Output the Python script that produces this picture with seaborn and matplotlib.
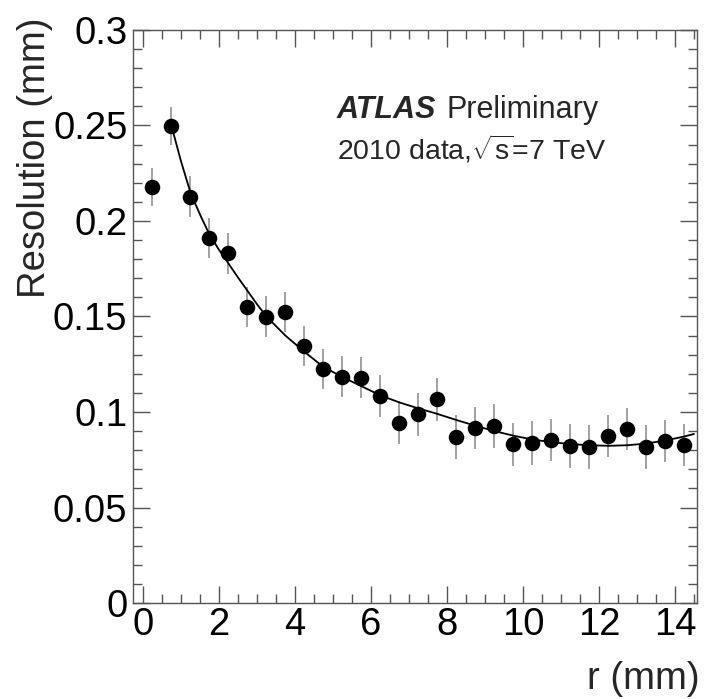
import matplotlib
matplotlib.use("Agg")
import matplotlib.pyplot as plt
import seaborn as sns
import pandas as pd
from matplotlib.ticker import MultipleLocator, FuncFormatter

# measured points
r = [0.25, 0.75, 1.25, 1.75, 2.25, 2.75, 3.25, 3.75, 4.25, 4.75,
     5.25, 5.75, 6.25, 6.75, 7.25, 7.75, 8.25, 8.75, 9.25, 9.75,
     10.25, 10.75, 11.25, 11.75, 12.25, 12.75, 13.25, 13.75, 14.25]
resolution = [0.2176, 0.2497, 0.2127, 0.1910, 0.1831, 0.1551, 0.1499, 0.1525, 0.1346, 0.1225,
              0.1185, 0.1180, 0.1086, 0.0944, 0.0988, 0.1066, 0.0870, 0.0916, 0.0927, 0.0832,
              0.0838, 0.0853, 0.0822, 0.0817, 0.0874, 0.0911, 0.0817, 0.0848, 0.0827]
res_err = [0.0100, 0.0100, 0.0106, 0.0106, 0.0106, 0.0106, 0.0106, 0.0105, 0.0106, 0.0107,
           0.0108, 0.0108, 0.0110, 0.0112, 0.0112, 0.0113, 0.0115, 0.0112, 0.0113, 0.0113,
           0.0113, 0.0112, 0.0113, 0.0113, 0.0112, 0.0112, 0.0113, 0.0108, 0.0108]

# fit curve
fit_r = [0.75, 1.0, 1.25, 1.5, 1.75, 2.0, 2.25, 2.5, 2.75, 3.0, 3.25, 3.75, 4.25, 4.75,
         5.25, 5.75, 6.25, 6.75, 7.25, 7.75, 8.25, 8.75, 9.25, 9.75, 10.25,
         10.75, 11.25, 11.75, 12.25, 12.75, 13.25, 13.75, 14.25, 14.5]
fit_res = [0.2500, 0.2315, 0.2150, 0.2035, 0.1930, 0.1850, 0.1778, 0.1705, 0.1635, 0.1565,
           0.1500, 0.1400, 0.1315, 0.1236, 0.1183, 0.1135, 0.1087, 0.1050, 0.1019, 0.0990,
           0.0958, 0.0928, 0.0900, 0.0876, 0.0856, 0.0842, 0.0832, 0.0826, 0.0823, 0.0826,
           0.0835, 0.0851, 0.0872, 0.0885]

df = pd.DataFrame({"r": r, "res": resolution, "err": res_err})
fit = pd.DataFrame({"r": fit_r, "res": fit_res})

sns.set_style("ticks")
plt.rcParams["font.family"] = ["Liberation Sans", "DejaVu Sans"]
plt.rcParams["mathtext.fontset"] = "custom"
plt.rcParams["mathtext.rm"] = "Liberation Sans"
plt.rcParams["mathtext.it"] = "Liberation Sans"

fig = plt.figure(figsize=(7.13, 6.99), dpi=100)
ax = fig.add_axes([133 / 713, 1 - 603 / 699, 564 / 713, 573 / 699])

axis_col = "#555555"
ax.errorbar(df["r"], df["res"], yerr=df["err"], fmt="none", ecolor="#888888",
            elinewidth=1.1, capsize=0, zorder=2)
sns.lineplot(data=fit, x="r", y="res", color="black", linewidth=1.3, ax=ax, zorder=3)
sns.scatterplot(data=df, x="r", y="res", color="black", s=125, edgecolor="black",
                linewidth=0, ax=ax, zorder=4)

ax.set_xlim(-0.26, 14.58)
ax.set_ylim(0, 0.3)
ax.xaxis.set_major_locator(MultipleLocator(2))
ax.xaxis.set_minor_locator(MultipleLocator(0.5))
ax.yaxis.set_major_locator(MultipleLocator(0.05))
ax.yaxis.set_minor_locator(MultipleLocator(0.01))
ax.yaxis.set_major_formatter(FuncFormatter(lambda v, p: f"{v:g}"))

for s in ax.spines.values():
    s.set_color(axis_col)
    s.set_linewidth(1.0)
ax.tick_params(which="both", direction="in", top=True, right=True, color=axis_col,
               width=1.0, labelsize=27.5, labelcolor="black")
ax.tick_params(which="major", length=12)
ax.tick_params(which="minor", length=6.5)
ax.tick_params(axis="x", pad=3)
ax.tick_params(axis="y", pad=4)

ax.set_xlabel("r (mm)", fontsize=27.5, loc="right")
ax.set_ylabel("Resolution (mm)", fontsize=27.5, loc="top")
ax.xaxis.set_label_coords(1.005, -0.102)
ax.yaxis.set_label_coords(-0.142, 1.022)

ax.text(5.1, 0.254, "ATLAS", fontsize=22, fontweight="bold", fontstyle="italic",
        va="baseline")
ax.text(8.0, 0.254, "Preliminary", fontsize=22, va="baseline")
ax.text(5.1, 0.232, r"2010 data,$\sqrt{s}$=7 TeV", fontsize=20.5, va="baseline")

fig.savefig("out.png", dpi=100)
